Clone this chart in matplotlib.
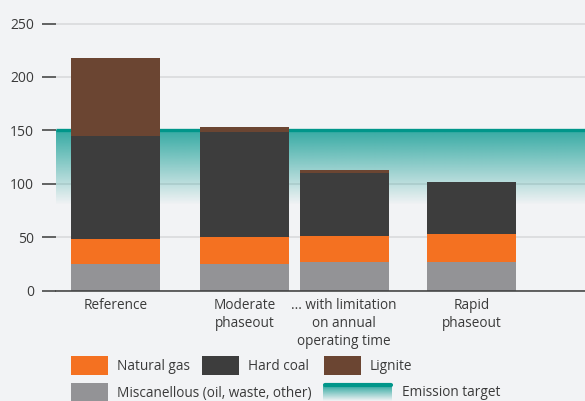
import matplotlib
matplotlib.use("Agg")
import matplotlib.pyplot as plt
from matplotlib.patches import Rectangle
import numpy as np

plt.rcParams['font.family'] = ['Open Sans', 'DejaVu Sans']

# scenario data (Mt CO2)
scenarios = ["Reference", "Moderate\nphaseout", "... with limitation\non annual\noperating time", "Rapid\nphaseout"]
misc = [25, 25, 27, 27]
gas = [23, 25, 24, 25.5]
hard_coal = [97, 98, 59, 49.5]
lignite = [73, 5, 3, 0]
target = 150

x_pos = [59.5, 188.5, 288, 415.5]
bar_w = 89

bg = "#f2f3f5"
c_gas = "#f47121"
c_coal = "#3d3d3d"
c_lig = "#6b4532"
c_misc = "#939396"
c_teal = "#00968a"
txt = "#3a3a3a"

W, H = 585, 401
fig = plt.figure(figsize=(W / 100, H / 100), dpi=100, facecolor=bg)

px_per_unit = 1.068
ymax = 270
y0 = 290.5
ax = fig.add_axes([56 / W, (H - y0) / H, 529 / W, ymax * px_per_unit / H])
ax.set_facecolor(bg)
ax.set_xlim(0, 529)
ax.set_ylim(0, ymax)

# gradient below emission target
grad_bottom = 80
n = 200
rgba = np.zeros((n, 1, 4))
rgba[:, 0, 1] = 150 / 255
rgba[:, 0, 2] = 140 / 255
rgba[:, 0, 3] = np.linspace(0.78, 0.0, n)
ax.imshow(rgba, extent=[0, 529, grad_bottom, target], aspect="auto", zorder=1.5, interpolation="bilinear")
ax.plot([0, 529], [target, target], color=c_teal, lw=2.4, zorder=1.6, solid_capstyle="butt")

bottom = np.zeros(4)
for vals, col in [(misc, c_misc), (gas, c_gas), (hard_coal, c_coal), (lignite, c_lig)]:
    ax.bar(x_pos, vals, width=bar_w, bottom=bottom, color=col, zorder=2)
    bottom += np.array(vals)

ax.set_yticks([0, 50, 100, 150, 200, 250])
ax.yaxis.grid(True, color="#d9dadc", lw=1.2, zorder=0)
ax.set_axisbelow(True)
ax.tick_params(axis="y", length=10, width=1.1, color="#3a3a3a", pad=6, labelsize=10, labelcolor=txt, direction="out")
for s in ["top", "right", "left"]:
    ax.spines[s].set_visible(False)
ax.spines["bottom"].set_color("#3a3a3a")
ax.spines["bottom"].set_linewidth(1.1)
ax.spines["bottom"].set_zorder(3)
ax.set_xticks(x_pos)
ax.set_xticklabels(scenarios, fontsize=9.8, color=txt, linespacing=1.25)
ax.tick_params(axis="x", length=0, pad=5.5)

# legend drawn in pixel coordinates
lg = fig.add_axes([0, 0, 1, 1], facecolor="none")
lg.axis("off")

items = [
    (71, 356, c_gas, "Natural gas"),
    (202, 356, c_coal, "Hard coal"),
    (324, 356, c_lig, "Lignite"),
    (71, 383, c_misc, "Miscanellous (oil, waste, other)"),
]
for lx, ly, col, lab in items:
    lg.add_patch(Rectangle((lx, ly), 37, 19, color=col, lw=0))
    lg.text(lx + 46, ly + 10, lab, fontsize=9.8, color=txt, va="center", ha="left")

# emission target legend entry
m = 100
rg = np.zeros((m, 1, 4))
rg[:, 0, 1] = 150 / 255
rg[:, 0, 2] = 140 / 255
rg[:, 0, 3] = np.linspace(0.78, 0.0, m)
lg.imshow(rg, extent=[323, 392, 401, 386], aspect="auto", interpolation="bilinear")
lg.plot([324.5, 390.5], [385, 385], color=c_teal, lw=3, solid_capstyle="round")
lg.text(402, 393, "Emission target", fontsize=9.8, color=txt, va="center", ha="left")
lg.set_xlim(0, W)
lg.set_ylim(H, 0)

fig.savefig("out.png", dpi=100, facecolor=bg)
